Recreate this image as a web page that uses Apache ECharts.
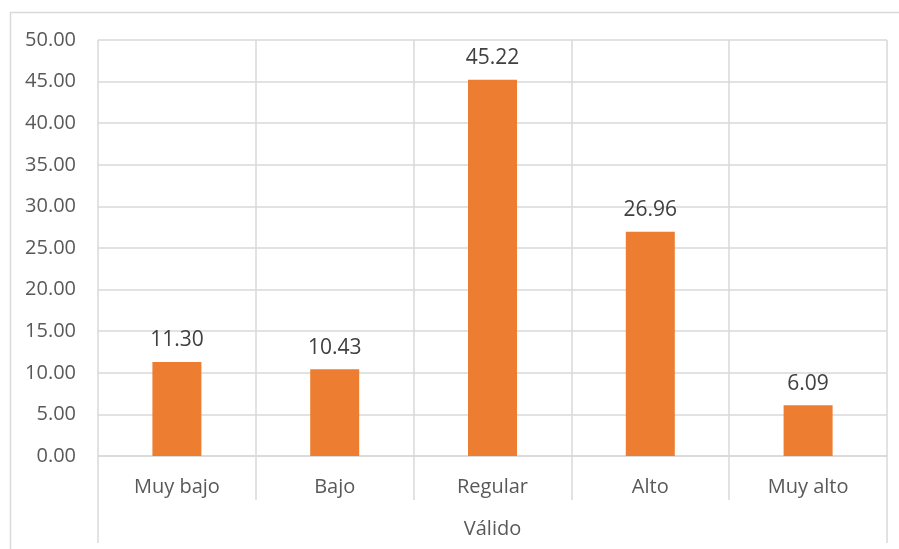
<!DOCTYPE html>
<html>
<head>
<meta charset="utf-8">
<script src="https://cdn.jsdelivr.net/npm/echarts@6/dist/echarts.min.js"></script>
<style>
  html, body { margin: 0; padding: 0; background: #fff; }
  #chart { width: 899px; height: 549px; }
</style>
</head>
<body>
<div id="chart"></div>
<script>
// Niveles y porcentajes
const categories = ['Muy bajo', 'Bajo', 'Regular', 'Alto', 'Muy alto'];
const groupLabels = ['Válido'];
const percentages = [11.30, 10.43, 45.22, 26.96, 6.09];

const FONT = 'Open Sans';
const GRID = '#d9d9d9';
const TEXT = '#595959';

const chart = echarts.init(document.getElementById('chart'), null, { renderer: 'canvas' });

chart.setOption({
  backgroundColor: '#ffffff',
  animation: false,
  textStyle: { fontFamily: FONT },
  graphic: [{
    type: 'rect',
    silent: true,
    shape: { x: 10.5, y: 12.5, width: 1000, height: 1000 },
    style: { fill: 'none', stroke: GRID, lineWidth: 1.5 }
  }],
  grid: { left: 98, right: 12, top: 40, bottom: 93, containLabel: false },
  xAxis: [
    {
      type: 'category',
      data: categories,
      position: 'bottom',
      axisLine: { show: true, lineStyle: { color: GRID, width: 1.5 } },
      axisTick: { show: true, length: 44, interval: 0, lineStyle: { color: GRID, width: 1.5 } },
      splitLine: { show: true, interval: 0, lineStyle: { color: GRID, width: 1.5 } },
      axisLabel: { color: TEXT, fontSize: 20, fontFamily: FONT, margin: 21, interval: 0 }
    },
    {
      type: 'category',
      data: groupLabels,
      position: 'bottom',
      axisLine: { show: false },
      axisTick: { show: true, length: 87, lineStyle: { color: GRID, width: 1.5 } },
      splitLine: { show: false },
      axisLabel: { color: TEXT, fontSize: 20, fontFamily: FONT, margin: 63 }
    }
  ],
  yAxis: {
    type: 'value',
    min: 0,
    max: 50,
    interval: 5,
    axisLine: { show: false },
    axisTick: { show: false },
    splitLine: { show: true, lineStyle: { color: GRID, width: 1.5 } },
    axisLabel: {
      color: TEXT, fontSize: 20, fontFamily: FONT, margin: 22,
      formatter: v => v.toFixed(2)
    }
  },
  series: [{
    type: 'bar',
    xAxisIndex: 0,
    data: percentages,
    barWidth: 49,
    itemStyle: { color: '#ED7D31' },
    label: {
      show: true,
      position: 'top',
      distance: 11,
      color: '#404040',
      fontSize: 21,
      fontFamily: FONT,
      formatter: p => p.value.toFixed(2)
    }
  }]
});
</script>
</body>
</html>
